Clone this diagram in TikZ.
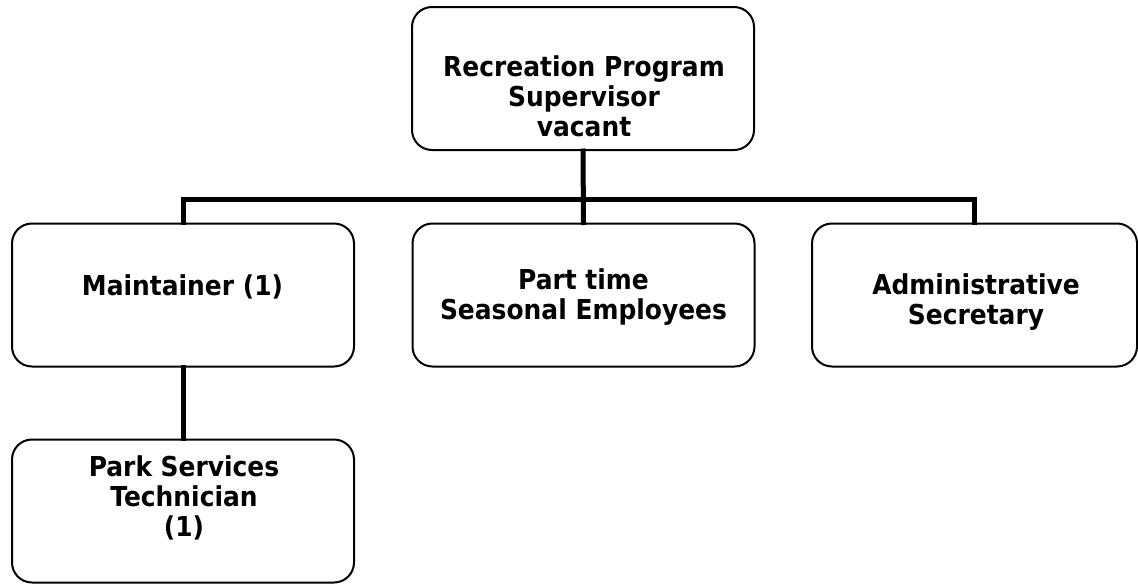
\documentclass[tikz,border=0pt]{standalone}
\usepackage{fontspec}
\newfontfamily\boxfont[FakeStretch=0.91]{DejaVu Sans}
\begin{document}
\begin{tikzpicture}[x=1pt,y=1pt,
  box/.style={draw=black, line width=2pt, rounded corners=20pt, inner sep=0pt,
              minimum width=#1, minimum height=143pt},
  box/.default=342pt,
  lbl/.style={inner sep=0pt, align=center, anchor=south, text depth=0pt,
              font={\boxfont\bfseries\fontsize{27.4}{30}\selectfont}},
  conn/.style={draw=black, line width=5pt, line join=miter, line cap=rect}]
  \useasboundingbox (0,0) rectangle (1138,-584);

  % boxes
  \node[box] (top) at (583,-78.5) {};
  \node[box] (man) at (183,-295) {};
  \node[box] (part) at (583.5,-295) {};
  \node[box=325pt] (adm) at (974.5,-295) {};
  \node[box] (park) at (183,-511) {};

  % box texts
  \node[lbl] (topt) at (584,-137) {Recreation Program\\Supervisor\\vacant};
  \node[lbl] (mant) at (182.5,-296) {Maintainer (1)};
  \node[lbl] (partt) at (583.5,-320) {Part time\\Seasonal Employees};
  \node[lbl] (admt) at (976,-325) {Administrative\\Secretary};
  \node[lbl] (parkt) at (184,-537) {Park Services\\Technician\\(1)};

  % connectors
  \coordinate (bus) at (0,-199);
  \draw[conn] (top.south) -- (part.north);
  \draw[conn] (man.north) -- (man.north |- bus) -- (adm.north |- bus) -- (adm.north);
  \draw[conn] (man.south) -- (park.north);
\end{tikzpicture}
\end{document}
